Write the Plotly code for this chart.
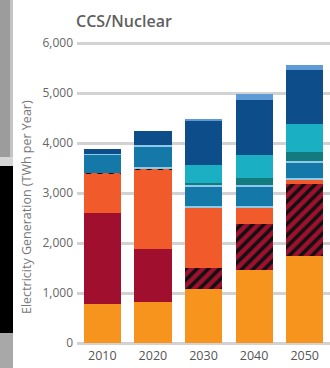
import plotly.graph_objects as go

years = ["2010", "2020", "2030", "2040", "2050"]
nuclear = [780, 830, 1090, 1460, 1750]
coal = [1820, 1050, 0, 0, 0]
coal_ccs = [0, 0, 420, 930, 1430]
gas = [790, 1590, 1200, 320, 90]
gas_ccs = [20, 20, 0, 0, 0]
biomass = [0, 30, 30, 40, 40]
hydro = [350, 400, 390, 370, 300]
other = [30, 40, 40, 40, 40]
geothermal = [0, 0, 30, 150, 170]
solar = [0, 0, 370, 460, 570]
wind = [90, 280, 870, 1100, 1080]
offshore = [0, 0, 50, 110, 100]

series = [
    ("Nuclear", nuclear, "#F7941D", None),
    ("Coal", coal, "#A0102E", None),
    ("Coal CCS", coal_ccs, "#A0102E", "/"),
    ("Natural Gas", gas, "#F15A2B", None),
    ("Gas CCS", gas_ccs, "#F15A2B", "/"),
    ("Biomass", biomass, "#8EC9EA", None),
    ("Hydro", hydro, "#1479A8", None),
    ("Other", other, "#8EC9EA", None),
    ("Geothermal", geothermal, "#137B7D", None),
    ("Solar", solar, "#1AAFC2", None),
    ("Wind", wind, "#0D4D8A", None),
    ("Offshore Wind", offshore, "#5E9BD6", None),
]

W, H = 330, 368
L, R, T, B = 77, 0, 38, 22
pw, ph = W - L - R, H - T - B

def px(x):
    return (x - L) / pw

def py(y):
    return (H - B - y) / ph

fig = go.Figure()
for name, vals, color, pat in series:
    marker = dict(color=color, line=dict(width=0))
    if pat:
        marker["pattern"] = dict(shape=pat, fgcolor="#111111", bgcolor=color,
                                 size=8, solidity=0.45, fillmode="replace")
    fig.add_trace(go.Bar(x=years, y=vals, name=name, marker=marker,
                         hoverinfo="skip"))

shapes = [
    dict(type="rect", xref="paper", yref="paper", x0=px(0), x1=px(10), y0=py(0), y1=py(157),
         fillcolor="#9c9c9c", line=dict(width=0), layer="above"),
    dict(type="rect", xref="paper", yref="paper", x0=px(10), x1=px(13), y0=py(0), y1=py(157),
         fillcolor="#c4c4c4", line=dict(width=0), layer="above"),
    dict(type="rect", xref="paper", yref="paper", x0=px(0), x1=px(13), y0=py(157), y1=py(166),
         fillcolor="#d6d6d6", line=dict(width=0), layer="above"),
    dict(type="rect", xref="paper", yref="paper", x0=px(0), x1=px(13), y0=py(166), y1=py(333),
         fillcolor="#000000", line=dict(width=0), layer="above"),
    dict(type="rect", xref="paper", yref="paper", x0=px(0), x1=px(13), y0=py(333), y1=py(368),
         fillcolor="#a8a8a8", line=dict(width=0), layer="above"),
]

annotations = [
    dict(text="CCS/Nuclear", xref="paper", yref="paper", x=px(74), y=py(21),
         xanchor="left", yanchor="middle", showarrow=False,
         font=dict(family="Open Sans", size=16, color="#5f5f5f", weight=600)),
    dict(text="Electricity Generation (TWh per Year)", xref="paper", yref="paper",
         x=px(26), y=py(207), xanchor="center", yanchor="middle", textangle=-90,
         showarrow=False, font=dict(family="Open Sans", size=12.5, color="#777777")),
]

fig.update_layout(
    width=W, height=H,
    margin=dict(l=L, r=R, t=T, b=B, pad=0),
    barmode="stack", bargap=0.265,
    paper_bgcolor="white", plot_bgcolor="white",
    showlegend=False,
    shapes=shapes, annotations=annotations,
    font=dict(family="Open Sans", size=12, color="#666666"),
    xaxis=dict(range=[-0.5, 4.5], showgrid=False, showline=False, zeroline=False,
               ticks="", tickfont=dict(size=12.5, color="#555555")),
    yaxis=dict(range=[-60, 6100], tickvals=[0, 1000, 2000, 3000, 4000, 5000, 6000],
               ticktext=["0", "1,000", "2,000", "3,000", "4,000", "5,000", "6,000"],
               showgrid=True, gridcolor="#d2d2d2", gridwidth=2.5, zeroline=False,
               showline=False, ticks="", ticklabelstandoff=3,
               tickfont=dict(size=12, color="#666666")),
)

fig.write_html("out.html")
